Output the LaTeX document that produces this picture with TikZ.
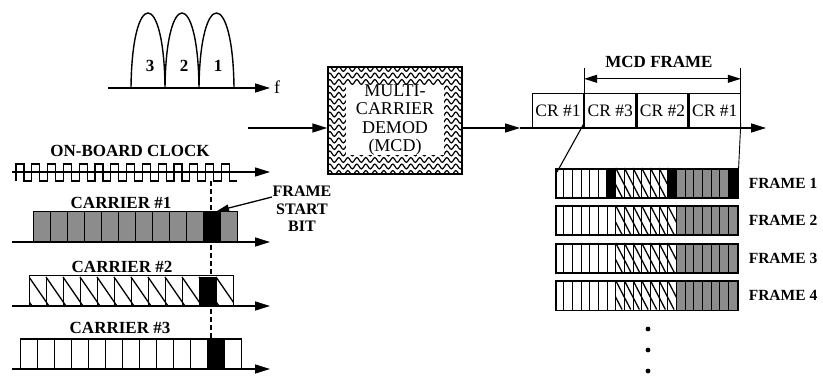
\documentclass[tikz,border=0pt]{standalone}
\usepackage{fontspec}
\setmainfont{Liberation Serif}
\usetikzlibrary{arrows.meta,decorations.pathmorphing}
\begin{document}
\begin{tikzpicture}[x=1pt,y=-1pt,
  axis/.style={line width=1.4pt,-{Triangle[length=15pt,width=9pt]}},
  lbl/.style={font=\fontsize{17}{18}\selectfont\bfseries,inner sep=0pt,align=center},
  crbox/.style={draw,line width=1.2pt,minimum width=51pt,minimum height=34pt,inner sep=0pt,
    font=\fontsize{17.5}{18}\selectfont,anchor=south west},
  cbox/.style={draw,line width=1.2pt,minimum height=29.5pt,inner sep=0pt,anchor=south west},
  frm/.style={draw,line width=1.6pt,minimum width=182pt,minimum height=29pt,inner sep=0pt,anchor=north west},
  dotfill/.style={fill=black!45},
  cell/.style={line width=0.9pt},
  hatch/.style={line width=1.3pt}]
\useasboundingbox (0,0) rectangle (823,377);

% ---------- spectrum ----------
\coordinate (fa0) at (108,88);
\coordinate (fa1) at (270,88);
\draw[axis] (fa0) -- (fa1);
\node[font=\fontsize{18}{18}\selectfont,anchor=west,inner sep=0pt] (flab) at (274,87) {f};
\draw[line width=1.4pt] (131,88) .. controls (132,-12) and (164,-12) .. (165,88)
  .. controls (166,-12) and (198,-12) .. (199,88)
  .. controls (200,-12) and (233,-12) .. (234,88);
\node[lbl] (n3) at (150,66) {3};
\node[lbl] (n2) at (184,66) {2};
\node[lbl] (n1) at (218,66) {1};

% ---------- MCD block ----------
\begin{scope}
  \clip (328,67) rectangle (462,174);
  \foreach \yy in {69,75.5,...,176}
    \draw[line width=1.2pt,decorate,decoration={snake,segment length=9pt,amplitude=2.4pt}] (318,\yy) -- (475,\yy);
\end{scope}
\fill[white] (346,85) rectangle (444,155);
\node[draw,line width=1.4pt,minimum width=134pt,minimum height=107pt,inner sep=0pt] (mcd) at (395,120.5) {};
\node[font=\fontsize{18}{18.3}\selectfont,align=center,inner sep=0pt] (mcdtxt) at (395,120) {MULTI-\\CARRIER\\DEMOD\\(MCD)};
\coordinate (in) at (248,128);
\draw[axis] (in) -- (in -| mcd.west);
\coordinate (ax0) at (520,128);
\coordinate (ax1) at (766,128);
\draw[axis] (ax0 -| mcd.east) -- (ax0);
\draw[axis] (ax0) -- (ax1);

% ---------- CR boxes ----------
\node[crbox] (cra) at (532,128) {CR \#1};
\node[crbox] (crc) at (cra.south east) {CR \#3};
\node[crbox] (crb) at (crc.south east) {CR \#2};
\node[crbox] (crd) at (crb.south east) {CR \#1};
\draw[line width=1.1pt] (crc.north west) -- ++(0,-25) coordinate (dl);
\draw[line width=1.1pt] (crd.north east) -- ++(0,-25) coordinate (dr);
\draw[line width=1.1pt,{Triangle[length=13pt,width=8pt]}-{Triangle[length=13pt,width=8pt]}]
  ([yshift=-11pt]dl) -- ([yshift=-11pt]dr);
\node[lbl] (mcdf) at (659,62) {MCD FRAME};

% ---------- frames ----------
\foreach \i/\yt in {1/168,2/205.5,3/243,4/280.5} {
  \fill[dotfill] (676.3,\yt) rectangle (737,{\yt+29});
  \begin{scope}
    \clip (615.7,\yt) rectangle (676.3,{\yt+29});
    \foreach \k in {-2,...,7}
      \draw[hatch] ({615.7+8.667*\k},\yt) -- ++(15,29);
  \end{scope}
  \foreach \k in {1,...,20}
    \draw[cell] ({555+8.667*\k},\yt) -- ++(0,29);
  \ifnum\i=1
    \fill (606,\yt) rectangle (615.7,{\yt+29});
    \fill (667,\yt) rectangle (676.3,{\yt+29});
    \fill (728,\yt) rectangle (737,{\yt+29});
  \fi
  \node[frm] (f\i) at (555,\yt) {};
  \node[lbl,font=\fontsize{15.5}{17}\selectfont\bfseries,anchor=west] (fl\i) at ([xshift=10pt]f\i.east) {FRAME \i};
}
\draw[line width=1.1pt] ([yshift=5pt]crc.south west) -- ([shift={(2pt,-4pt)}]f1.north west);
\draw[line width=0.9pt] ([yshift=5pt]crd.south east) -- (f1.north east);
\foreach \yy in {329,350,371}
  \fill (648,\yy) circle[radius=2.4pt];

% ---------- on-board clock ----------
\node[lbl] (clkl) at (130,151) {ON-BOARD CLOCK};
\coordinate (ck0) at (12,172);
\coordinate (ck1) at (270,172);
\draw[axis] (ck0) -- (ck1);
\draw[line width=1.2pt] (16,181) foreach \i in {0,...,13} { -- ++(0,-17) -- ++(7.9,0) -- ++(0,17) -- ++(7.9,0) };
\coordinate (dtop) at (211,181);
\coordinate (dbot) at (211,340);
\draw[line width=1.2pt,dash pattern=on 5pt off 3pt] (dtop) -- (dbot);

% ---------- carrier 1 ----------
\node[lbl] (c1l) at (121,203) {CARRIER \#1};
\fill[dotfill] (33,212) rectangle (237,242);
\fill (203,212) rectangle (220,242);
\foreach \k in {1,...,11} \draw[cell] ({33+17*\k},212) -- ++(0,30);
\node[cbox,minimum width=204pt] (c1) at (33,242) {};
\draw[axis] (12,242) -- (270,242);

% ---------- carrier 2 ----------
\node[lbl] (c2l) at (122,267) {CARRIER \#2};
\begin{scope}
  \clip (29,277) rectangle (233,306);
  \foreach \k in {-1,...,11} \draw[hatch] ({29+17*\k},277) -- ++(20,29);
\end{scope}
\fill (199,277) rectangle (216,306);
\foreach \k in {1,...,11} \draw[cell] ({29+17*\k},277) -- ++(0,29);
\node[cbox,minimum width=204pt] (c2) at (29,306) {};
\draw[axis] (12,306) -- (270,306);

% ---------- carrier 3 ----------
\node[lbl] (c3l) at (120,328) {CARRIER \#3};
\fill (207,340) rectangle (224,369);
\foreach \k in {1,...,12} \draw[cell] ({20+17*\k},340) -- ++(0,29);
\node[cbox,minimum width=221pt] (c3) at (20,369) {};
\draw[axis] (12,369) -- (270,369);

% ---------- frame start bit ----------
\node[lbl,font=\fontsize{16}{17.5}\selectfont\bfseries] (fsb) at (302,209) {FRAME\\START\\BIT};
\coordinate (fsbarr) at (272,197);
\coordinate (fsbtip) at (217,211);
\draw[line width=1.3pt,-{Triangle[length=12pt,width=7pt]}] (fsbarr) -- (fsbtip);
\end{tikzpicture}
\end{document}
